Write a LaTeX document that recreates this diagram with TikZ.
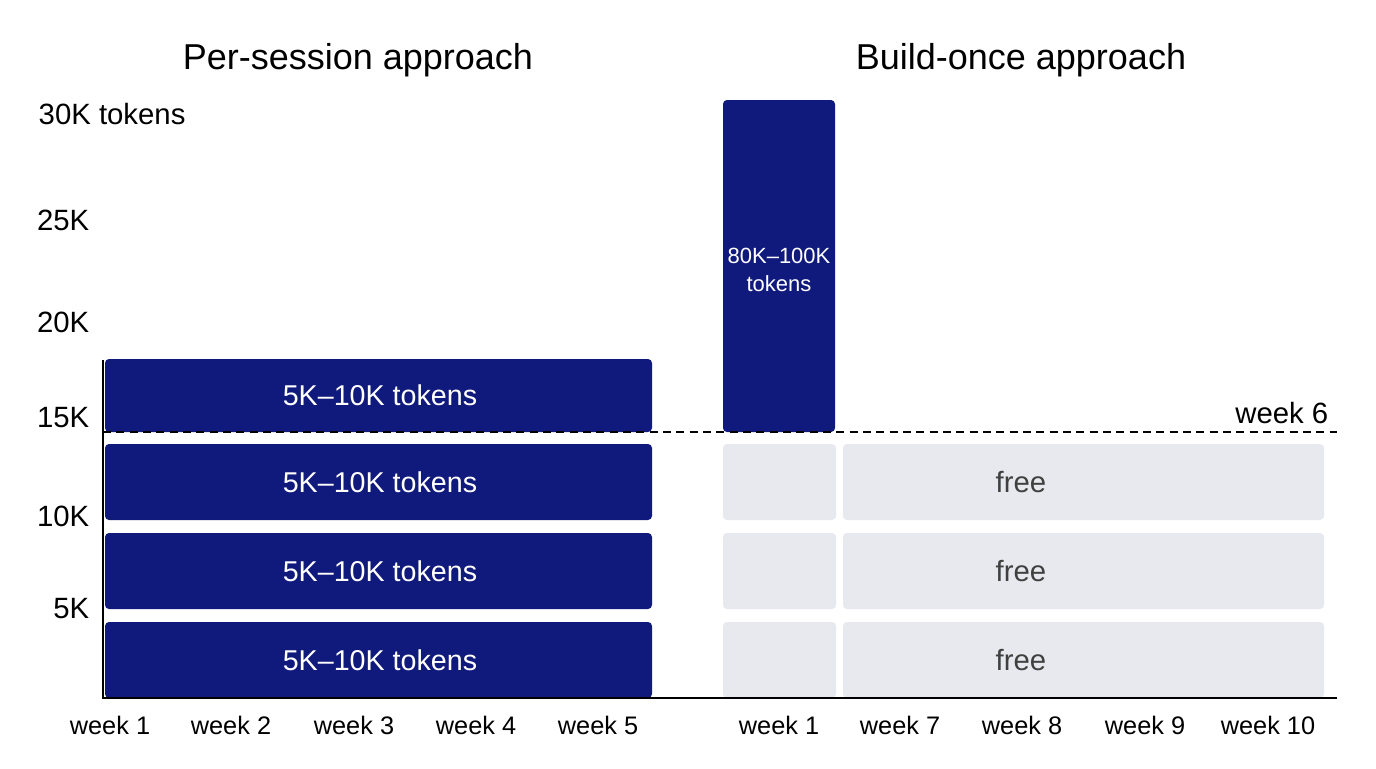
\documentclass[tikz,border=0pt]{standalone}
\usepackage{fontspec}
\setmainfont{Liberation Sans}
\definecolor{navy}{HTML}{101A7C}
\definecolor{lgray}{HTML}{E8E9EE}
\begin{document}
\begin{tikzpicture}[x=0.75pt,y=-0.75pt,
  bar/.style={fill=navy,rounded corners=3pt,draw=none},
  fr/.style={fill=lgray,rounded corners=3pt,draw=none},
  ttl/.style={font=\fontsize{27}{32}\selectfont},
  lab/.style={font=\fontsize{19}{22}\selectfont},
  ylab/.style={font=\fontsize{22}{26}\selectfont},
  btxt/.style={text=white,font=\fontsize{21.5}{25}\selectfont},
  gtxt/.style={text=black!75,font=\fontsize{22}{26}\selectfont}]
\fill[white] (0,0) rectangle (1376,768);
\useasboundingbox (0,0) rectangle (1376,768);
\node[ttl] (t1) at (358,60) {Per-session approach};
\node[ttl] (t2) at (1021,60) {Build-once approach};
\node[ylab,anchor=west] (y30) at (34,114) {30K tokens};
\foreach \v/\y in {25K/220,20K/322,15K/418,10K/516,5K/609}
  \node[ylab,anchor=east] (y\v) at (94,\y) {\v};
% left bars
\foreach \a/\b [count=\i] in {359/432,444/520,533/609,622/698}{
  \fill[bar] (105,\a) rectangle (652,\b);
  \node[btxt] (l\i) at (380,{(\a+\b)/2}) {5K–10K tokens};
}
% tall bar
\fill[bar] (723,100) rectangle (835,432);
\node[text=white,font=\fontsize{16.5}{21}\selectfont,align=center] (tall) at (779,270) {80K–100K\\tokens};
% gray boxes
\foreach \a/\b [count=\i] in {444/520,533/609,622/698}{
  \fill[fr] (723,\a) rectangle (836,\b);
  \fill[fr] (843,\a) rectangle (1324,\b);
  \node[gtxt] (f\i) at (1021,{(\a+\b)/2}) {free};
}
% axes
\coordinate (o) at (103,698);
\coordinate (top) at (103,360);
\coordinate (xe) at (1337,698);
\draw[line width=1.5pt] (top) -- (o) -- (xe);
\coordinate (d1) at (103,432);
\coordinate (d2) at (1337,432);
\draw[dashed,line width=1.2pt,dash pattern=on 6pt off 4pt] (d1) -- (d2);
\node[ylab,anchor=east] (w6) at (1333,413) {week 6};
\foreach \x/\t [count=\i] in {110/week 1,231/week 2,354/week 3,476/week 4,598/week 5,779/week 1,900/week 7,1022/week 8,1145/week 9,1268/week 10}
  \node[lab] (x\i) at (\x,725) {\t};
\end{tikzpicture}
\end{document}
